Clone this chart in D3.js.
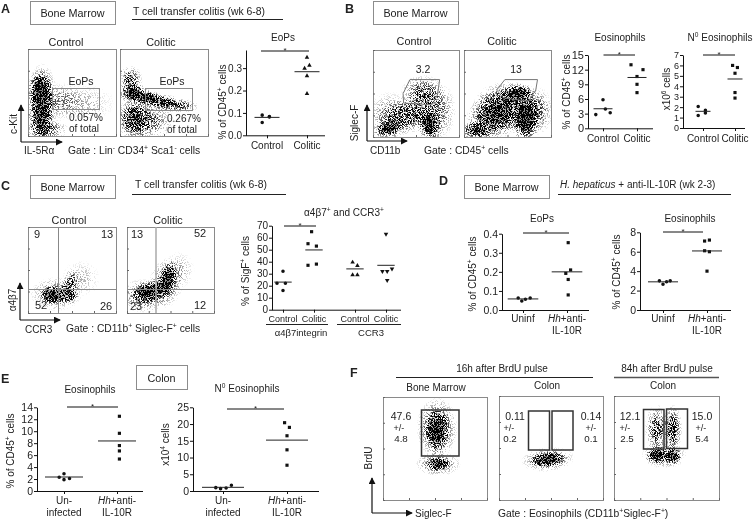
<!DOCTYPE html>
<html>
<head>
<meta charset="utf-8">
<script src="https://d3js.org/d3.v7.min.js"></script>
<style>
  html, body { margin: 0; padding: 0; background: #fff; }
  svg { display: block; filter: blur(0.3px); }
  text { font-family: "Liberation Sans", Arial, sans-serif; fill: #222; }
</style>
</head>
<body>
<div id="viz"></div>
<script>
// ---- dot plot values ----
// slots = sideways dodge of each dot inside its group
var eopsControl = [0.09, 0.084, 0.082, 0.057], eopsControlSlots = [-2, 1, 1, -2];
var eopsColitic = [0.348, 0.3125, 0.299, 0.265, 0.186], eopsColiticSlots = [0, 1, -1, 0, 0];
var eopsMeans = [0.08, 0.284];

var eosControl = [5.86, 3.95, 3.2, 2.8], eosControlSlots = [0, 1, 3, -3];
var eosColitic = [13, 12, 10.6, 9, 7.3], eosColiticSlots = [-2.5, 2.5, 0, 0, 0];
var eosMeans = [4, 10.4];

var numControl = [2.07, 1.7, 1.43, 1.2], numControlSlots = [-2, 1, 1, -2];
var numColitic = [6, 5.8, 5.25, 3.4, 2.87], numColiticSlots = [-1, 1, 0, 0, 0];
var numMeans = [1.6, 4.7];

var a4b7Control = [32, 22, 22, 16], a4b7ControlSlots = [0, -2.5, 1, 0];
var a4b7Colitic = [65, 55, 53, 38, 37], a4b7ColiticSlots = [-1, -2.5, 1, 1, -2.5];
var ccr3Control = [39.5, 36.7, 29, 29], ccr3ControlSlots = [-1, 1, -1, 1];
var ccr3Colitic = [63, 34, 32, 32, 24.5], ccr3ColiticSlots = [0, 2.5, -1.5, 0.5, 0.5];
var sigfMeans = [23, 49.8, 34, 37];

var hhEopsUninf = [0.063, 0.047, 0.056, 0.063], hhEopsUninfSlots = [-2, -0.5, 1, 3];
var hhEopsTreated = [0.353, 0.21, 0.192, 0.16, 0.079], hhEopsTreatedSlots = [0.5, 1.5, -0.5, 0.5, 0.5];
var hhEopsMeans = [0.058, 0.2];

var hhEosUninf = [3, 2.65, 2.9, 3], hhEosUninfSlots = [-1.5, 0, 1.5, 3];
var hhEosTreated = [7.1, 7.2, 6.1, 6, 4], hhEosTreatedSlots = [-1, 1, -1, 1, 0];
var hhEosMeans = [2.9, 6.08];

var colonPctUninf = [2.9, 2.3, 2.1, 1.9], colonPctUninfSlots = [0, -2, 2.3, 0];
var colonPctTreated = [12.5, 9.65, 7.6, 6.7, 5.35], colonPctTreatedSlots = [1, 1, 1, 1, 1];
var colonPctMeans = [2.34, 8.37];

var colonNumUninf = [1, 0.7, 0.9, 1.7], colonNumUninfSlots = [-3, -1, 1.3, 3.5];
var colonNumTreated = [20.4, 19, 16.5, 12.3, 7.7], colonNumTreatedSlots = [-1, 1, 0, 0, 0];
var colonNumMeans = [1.1, 15.2];

var controlColitic = [["Control"], ["Colitic"]];
var uninfLabels = [["Uninf"], ["*Hh*+anti-", "IL-10R"]];
var infectedLabels = [["Un-", "infected"], ["*Hh*+anti-", "IL-10R"]];
var sigfLabels = [["Control"], ["Colitic"], ["Control"], ["Colitic"]];

// ---- flow plots: density clouds in plot units (x, y, rx, ry, tilt, strength) ----
var cloudsA1 = [[14,52,15,24,0,1],[15,24,15,30,0,.85],[16,40,18,44,0,.7],[38,40,26,22,0,.25],[60,38,40,22,0,.16],[20,8,26,14,0,.5]];
var cloudsA2 = [[14,50,16,13,0,1],[30,44,24,10,12,1],[52,38,28,10,10,.75],[72,35,18,8,5,.4],[16,20,20,25,0,.75],[12,65,14,16,0,.55],[30,18,32,24,0,.45]];
var cloudsB1 = [[18,10,19,11,-15,1],[65,15,15,22,-15,1],[40,25,36,22,-20,.6],[58,50,26,22,0,.5],[20,25,28,28,0,.3],[75,30,22,34,0,.4]];
var cloudsB2 = [[62,50,22,12,0,1],[70,17,17,24,-5,1],[72,28,15,22,0,1],[35,25,34,28,-30,.85],[15,8,22,12,0,.8],[50,35,40,30,0,.65],[85,30,18,28,0,.4]];
var cloudsC1 = [[26,21,12,11,0,1],[36,21,22,11,0,.65],[47,25,11,16,-10,.65],[50,38,10,13,0,.4],[32,22,30,20,0,.4],[60,40,22,22,0,.15]];
var cloudsC2 = [[22,24,16,13,-20,1],[47,40,10,23,15,1],[35,27,20,13,-20,.75],[45,35,20,30,10,.5],[20,20,30,20,0,.45],[60,50,18,22,0,.18]];
var cloudsF1 = [[52,66,12,22,0,1],[52,70,20,30,0,.65],[53,35,11,7,0,1],[53,35,22,12,0,.5]];
var cloudsF2 = [[47,39,19,8,-5,1],[47,39,26,12,-5,.5]];
var cloudsF3 = [[41,43,12,9,0,1],[56,42,9,9,0,1],[41,68,12,24,0,.55],[56,68,9,24,0,.7],[48,43,22,13,0,.45]];
var flowTicks = [0, 25, 50, 75, 100];

var svg = d3.select("#viz").append("svg").attr("width", 754).attr("height", 520);
var defs = svg.append("defs");

// soft falloff for the density clouds
var cloudGrad = defs.append("radialGradient").attr("id", "cloudGrad");
[[0, 1], [0.35, 0.8], [0.7, 0.25], [1, 0]].forEach(function(s) {
    cloudGrad.append("stop").attr("offset", s[0]).attr("stop-color", "#000").attr("stop-opacity", s[1]);
});

// grain filter: cloud density mixed with fine noise so it reads as many small dots
var stipple = defs.append("filter").attr("id", "stipple")
    .attr("filterUnits", "userSpaceOnUse")
    .attr("x", 0).attr("y", 0).attr("width", 754).attr("height", 520)
    .attr("color-interpolation-filters", "sRGB");
stipple.append("feTurbulence").attr("type", "fractalNoise").attr("baseFrequency", 1.13)
    .attr("numOctaves", 2).attr("seed", 4).attr("result", "raw");
stipple.append("feColorMatrix").attr("in", "raw").attr("type", "matrix")
    .attr("values", "0 0 0 0 0  0 0 0 0 0  0 0 0 0 0  0 0 0 5 -2").attr("result", "noise");
stipple.append("feComposite").attr("in", "SourceGraphic").attr("in2", "noise").attr("operator", "arithmetic")
    .attr("k1", 1.0).attr("k2", 1.3).attr("k3", 0.8).attr("k4", -0.8);

defs.append("marker").attr("id", "head").attr("viewBox", "0 0 8 8")
    .attr("refX", 7).attr("refY", 4).attr("markerWidth", 7).attr("markerHeight", 7)
    .attr("markerUnits", "userSpaceOnUse").attr("orient", "auto")
  .append("path").attr("d", "M0,0L8,4L0,8Z").attr("fill", "#111");

// text with ^superscript^ and *italic* pieces
function rich(sel, str, size) {
    var parts = str.split(/(\^[^^]*\^|\*[^*]+\*)/).filter(function(d) { return d !== ""; });
    var lift = size * 0.36, raised = false;
    parts.forEach(function(p) {
        var t = sel.append("tspan");
        if (p[0] === "^") {
            t.text(p.slice(1, -1)).attr("font-size", size * 0.66).attr("dy", -lift);
            raised = true;
        } else {
            if (raised) t.attr("dy", lift);
            raised = false;
            if (p.length > 2 && p[0] === "*") t.text(p.slice(1, -1)).attr("font-style", "italic");
            else t.text(p);
        }
    });
    return sel;
}

function label(x, y, str, size, anchor, rotate) {
    size = size || 10;
    var t = svg.append("text").attr("font-size", size).attr("text-anchor", anchor || "start");
    if (rotate) t.attr("transform", "translate(" + x + "," + y + ") rotate(" + rotate + ")");
    else t.attr("x", x).attr("y", y);
    return rich(t, str, size);
}

function hline(x1, x2, y, color, width) {
    svg.append("line").attr("x1", x1).attr("x2", x2).attr("y1", y).attr("y2", y)
        .attr("stroke", color || "#111").attr("stroke-width", width || 1);
}

function tissueBox(x1, y1, x2, y2, str, baseline) {
    svg.append("rect").attr("x", x1 + .5).attr("y", y1 + .5).attr("width", x2 - x1).attr("height", y2 - y1)
        .attr("fill", "none").attr("stroke", "#8c8c8c").attr("stroke-width", 1);
    label((x1 + x2) / 2, baseline, str, 10.8, "middle");
}

function arrows(x, yTop, yBottom, xRight) {
    svg.append("path").attr("d", "M" + x + "," + yBottom + "V" + yTop)
        .attr("stroke", "#111").attr("stroke-width", 1.2).attr("fill", "none").attr("marker-end", "url(#head)");
    svg.append("path").attr("d", "M" + x + "," + yBottom + "H" + xRight)
        .attr("stroke", "#111").attr("stroke-width", 1.2).attr("fill", "none").attr("marker-end", "url(#head)");
}

var clipCount = 0;
function flowPlot(x1, x2, y1, y2, clouds) {
    var x = d3.scaleLinear().domain([0, 100]).range([x1, x2]);
    var y = d3.scaleLinear().domain([0, 100]).range([y2, y1]);
    var id = "clip" + (clipCount++);
    defs.append("clipPath").attr("id", id).append("rect")
        .attr("x", x1).attr("y", y1).attr("width", x2 - x1).attr("height", y2 - y1);
    var sx = (x2 - x1) / 100, sy = (y2 - y1) / 100;
    svg.append("g").attr("clip-path", "url(#" + id + ")")
      .append("g").attr("filter", "url(#stipple)")
      .selectAll("ellipse").data(clouds).enter().append("ellipse")
        .attr("cx", 0).attr("cy", 0)
        .attr("rx", function(d) { return d[2] * sx; })
        .attr("ry", function(d) { return d[3] * sy; })
        .attr("fill", "url(#cloudGrad)").attr("fill-opacity", function(d) { return d[5]; })
        .attr("transform", function(d) { return "translate(" + x(d[0]) + "," + y(d[1]) + ") rotate(" + d[4] + ")"; });
    svg.append("rect").attr("x", x1 + .5).attr("y", y1 + .5).attr("width", x2 - x1).attr("height", y2 - y1)
        .attr("fill", "none").attr("stroke", "#8a8a8a").attr("stroke-width", 1);
    var left = svg.append("g").attr("transform", "translate(" + x1 + ",0)")
        .call(d3.axisLeft(y).tickValues(flowTicks).tickSize(-2).tickFormat(""));
    var bottom = svg.append("g").attr("transform", "translate(0," + y2 + ")")
        .call(d3.axisBottom(x).tickValues(flowTicks).tickSize(-2).tickFormat(""));
    left.select(".domain").remove();
    bottom.select(".domain").remove();
    left.selectAll("line").attr("stroke", "#666");
    bottom.selectAll("line").attr("stroke", "#666");
    return { x: x, y: y };
}

function gateRect(x1, x2, y1, y2, color, width) {
    svg.append("rect").attr("x", x1).attr("y", y1).attr("width", x2 - x1).attr("height", y2 - y1)
        .attr("fill", "none").attr("stroke", color).attr("stroke-width", width);
}

var shapes = {
    circle: d3.symbol().type(d3.symbolCircle).size(10)(),
    square: d3.symbol().type(d3.symbolSquare).size(10)(),
    triangle: d3.symbol().type(d3.symbolTriangle).size(9)()
};
var SLOT_STEP = 2.4;

// one dot plot: y axis, x axis, dots, mean bars, significance bar
function dotPlot(c) {
    var y = d3.scaleLinear().domain([0, c.yMax]).range([c.bottom, c.top]);
    var ids = c.ticks.map(function(d, i) { return "g" + i; });
    var x = d3.scaleOrdinal().domain(ids).range(c.ticks);

    var ax = svg.append("g").attr("transform", "translate(" + c.left + ",0)")
        .call(d3.axisLeft(y).tickValues(c.yTicks).tickSize(3).tickSizeOuter(0).tickPadding(1).tickFormat(c.yFormat));
    ax.selectAll("text").attr("font-size", c.tickSize || 10).attr("font-family", null);
    var bx = svg.append("g").attr("transform", "translate(0," + c.bottom + ")")
        .call(d3.axisBottom(x).tickValues(ids).tickSize(3).tickSizeOuter(0).tickFormat(""));
    bx.select(".domain").attr("d", "M" + c.left + ",0.5H" + c.right);
    ax.selectAll("path,line").attr("stroke", "#111");
    bx.selectAll("path,line").attr("stroke", "#111");

    c.groups.forEach(function(g, i) {
        var cx = x(ids[i]);
        svg.append("g").selectAll("path").data(g.values).enter().append("path")
            .attr("d", shapes[g.shape])
            .attr("fill", "#111")
            .attr("transform", function(d, j) {
                return "translate(" + (cx + g.slots[j] * SLOT_STEP) + "," + y(d) + ")" + (g.flip ? " rotate(180)" : "");
            });
        hline(cx - c.meanHalf, cx + c.meanHalf, y(c.means[i]), "#222", 1);
        c.labels[i].forEach(function(line, k) {
            label(cx + (c.labelShift || 0), c.labelY + k * 12, line, c.labelSize || 10, "middle");
        });
    });

    hline(c.sig[0], c.sig[1], c.sig[2], "#111", 1);
    label((c.sig[0] + c.sig[1]) / 2 + (c.starShift || 0), c.sig[2] + 1.5, "*", 8, "middle");
    if (c.title) label(c.titleX, c.titleY, c.title, 10, "middle");
    label(c.yLabelX, c.yLabelY, c.yLabel, 10, "middle", -90);
}

// ---------- panel A ----------
label(1, 12.5, "A", 12.5).attr("font-weight", "bold");
tissueBox(30, 1, 115, 24, "Bone Marrow", 17);
label(133, 14.5, "T cell transfer colitis (wk 6-8)", 10.4);
hline(132, 283, 19.5, "#222");
label(66, 46, "Control", 10.8, "middle");
label(161, 46, "Colitic", 10.8, "middle");
flowPlot(28, 116, 49, 136, cloudsA1);
flowPlot(120, 208, 49, 136, cloudsA2);
gateRect(52.5, 99.5, 88.5, 109.5, "#8a8a8a", 1);
gateRect(145.5, 192.5, 88.5, 110.5, "#8a8a8a", 1);
label(81, 85, "EoPs", 10.5, "middle");
label(172, 85, "EoPs", 10.5, "middle");
label(69, 120.5, "0.057%", 10);
label(69, 132, "of total", 10);
label(167, 121.5, "0.267%", 10);
label(167, 133, "of total", 10);
arrows(21, 105, 142, 62);
label(17, 124, "c-Kit", 10, "middle", -90);
label(24, 154, "IL-5Rα", 10);
label(68, 154, "Gate : Lin^-^ CD34^+^ Sca1^-^ cells", 10.3);

dotPlot({
    left: 246, right: 325, top: 50, bottom: 135.3, yMax: 0.381, yTicks: [0, 0.1, 0.2, 0.3], yFormat: d3.format(".1f"),
    ticks: [267, 307], means: eopsMeans, meanHalf: 12.5, labels: controlColitic, labelY: 149,
    groups: [
        { values: eopsControl, slots: eopsControlSlots, shape: "circle" },
        { values: eopsColitic, slots: eopsColiticSlots, shape: "triangle" }
    ],
    sig: [261, 309, 51], title: "EoPs", titleX: 283, titleY: 41,
    yLabel: "% of CD45^+^ cells", yLabelX: 226, yLabelY: 102
});

// ---------- panel B ----------
label(345, 12.5, "B", 12.5).attr("font-weight", "bold");
tissueBox(373, 1, 458, 24, "Bone Marrow", 17);
label(414, 45, "Control", 10.8, "middle");
label(502, 45, "Colitic", 10.8, "middle");
var b1 = flowPlot(373, 459, 50, 137, cloudsB1);
var b2 = flowPlot(464, 551, 50, 137, cloudsB2);
var gateLine = d3.line().curve(d3.curveLinearClosed);
svg.append("path").attr("fill", "none").attr("stroke", "#777")
    .attr("d", gateLine([[43,66],[77.5,66],[75,48.5],[68.6,37],[35.6,39],[35,50]].map(function(p) { return [b1.x(p[0]), b1.y(p[1])]; })));
svg.append("path").attr("fill", "none").attr("stroke", "#777")
    .attr("d", gateLine([[47,66],[84.5,66],[82.5,54],[74,41],[45,45],[37.6,54]].map(function(p) { return [b2.x(p[0]), b2.y(p[1])]; })));
label(423, 73, "3.2", 10.5, "middle");
label(516, 73, "13", 10.5, "middle");
arrows(367, 105, 141, 407);
label(358, 123, "Siglec-F", 10, "middle", -90);
label(370, 154, "CD11b", 10);
label(424, 154, "Gate : CD45^+^ cells", 10.3);

dotPlot({
    left: 588, right: 653, top: 55, bottom: 128.3, yMax: 15, yTicks: [0, 3, 6, 9, 12, 15], yFormat: d3.format("d"), tickSize: 11,
    ticks: [603, 637], means: eosMeans, meanHalf: 9.5, labels: controlColitic, labelY: 142,
    groups: [
        { values: eosControl, slots: eosControlSlots, shape: "circle" },
        { values: eosColitic, slots: eosColiticSlots, shape: "square" }
    ],
    sig: [603.5, 635, 55], title: "Eosinophils", titleX: 620, titleY: 41,
    yLabel: "% of CD45^+^ cells", yLabelX: 570, yLabelY: 92
});
dotPlot({
    left: 683, right: 745, top: 55, bottom: 128, yMax: 7, yTicks: [0, 1, 2, 3, 4, 5, 6, 7], yFormat: d3.format("d"), tickSize: 9,
    ticks: [703, 735], means: numMeans, meanHalf: 7.5, labels: controlColitic, labelY: 142,
    groups: [
        { values: numControl, slots: numControlSlots, shape: "circle" },
        { values: numColitic, slots: numColiticSlots, shape: "square" }
    ],
    sig: [703, 735, 55], title: "N^0^ Eosinophils", titleX: 720, titleY: 41,
    yLabel: "x10^6^ cells", yLabelX: 670, yLabelY: 89
});

// ---------- panel C ----------
label(1, 190, "C", 12.5).attr("font-weight", "bold");
tissueBox(30, 175, 115, 198, "Bone Marrow", 190.5);
label(135, 188, "T cell transfer colitis (wk 6-8)", 10.4);
hline(132, 286, 194.5, "#222");
label(69, 224, "Control", 10.8, "middle");
label(168, 224, "Colitic", 10.8, "middle");
flowPlot(28, 116, 227, 313, cloudsC1);
flowPlot(127, 214, 227, 313, cloudsC2);
svg.append("path").attr("fill", "none").attr("stroke", "#888").attr("d", "M58.5,227V313M28,289.5H116");
svg.append("path").attr("fill", "none").attr("stroke", "#aaa").attr("stroke-width", 1.5).attr("d", "M156,227V313");
svg.append("path").attr("fill", "none").attr("stroke", "#888").attr("d", "M127,289.5H214");
label(37, 238, "9", 11, "middle");
label(107, 238, "13", 11, "middle");
label(41, 309, "52", 11, "middle");
label(106, 310, "26", 11, "middle");
label(137, 238, "13", 11, "middle");
label(200, 237, "52", 11, "middle");
label(136, 310, "23", 11, "middle");
label(200, 309, "12", 11, "middle");
arrows(20, 283, 320, 60);
label(16, 300, "α4β7", 10, "middle", -90);
label(25, 333, "CCR3", 10);
label(66, 332, "Gate : CD11b^+^ Siglec-F^+^ cells", 10.3);

dotPlot({
    left: 272, right: 401, top: 225.7, bottom: 309.7, yMax: 70, yTicks: d3.range(0, 71, 10), yFormat: d3.format("d"),
    ticks: [283, 314, 355, 386], means: sigfMeans, meanHalf: 8.7, labels: sigfLabels, labelY: 322, labelSize: 9, labelShift: 0,
    groups: [
        { values: a4b7Control, slots: a4b7ControlSlots, shape: "circle" },
        { values: a4b7Colitic, slots: a4b7ColiticSlots, shape: "square" },
        { values: ccr3Control, slots: ccr3ControlSlots, shape: "triangle" },
        { values: ccr3Colitic, slots: ccr3ColiticSlots, shape: "triangle", flip: true }
    ],
    sig: [284, 316, 226], title: "α4β7^+^ and CCR3^+^", titleX: 344, titleY: 216,
    yLabel: "% of SigF^+^ cells", yLabelX: 249, yLabelY: 271
});
hline(266, 328, 324.5, "#222");
hline(337, 401, 324.5, "#222");
label(301, 336, "α4β7integrin", 9.5, "middle");
label(371, 336, "CCR3", 9.5, "middle");

// ---------- panel D ----------
label(439, 185, "D", 12.5).attr("font-weight", "bold");
tissueBox(464, 175, 549, 198, "Bone Marrow", 190.5);
label(560, 188, "*H. hepaticus* + anti-IL-10R (wk 2-3)", 10);
hline(558, 731, 194.5, "#222");

dotPlot({
    left: 502, right: 589, top: 233.7, bottom: 310, yMax: 0.4, yTicks: [0, 0.1, 0.2, 0.3, 0.4], yFormat: d3.format(".1f"), tickSize: 10.5,
    ticks: [523, 567], means: hhEopsMeans, meanHalf: 15.3, labels: uninfLabels, labelY: 322,
    groups: [
        { values: hhEopsUninf, slots: hhEopsUninfSlots, shape: "circle" },
        { values: hhEopsTreated, slots: hhEopsTreatedSlots, shape: "square" }
    ],
    sig: [523, 569, 233], title: "EoPs", titleX: 542, titleY: 222,
    yLabel: "% of CD45^+^ cells", yLabelX: 476, yLabelY: 274
});
dotPlot({
    left: 640, right: 731, top: 232.3, bottom: 310, yMax: 8, yTicks: [0, 2, 4, 6, 8], yFormat: d3.format("d"), tickSize: 10.5,
    ticks: [663, 707], means: hhEosMeans, meanHalf: 15, labels: uninfLabels, labelY: 322,
    groups: [
        { values: hhEosUninf, slots: hhEosUninfSlots, shape: "circle" },
        { values: hhEosTreated, slots: hhEosTreatedSlots, shape: "square" }
    ],
    sig: [663, 703, 232], title: "Eosinophils", titleX: 690, titleY: 222,
    yLabel: "% of CD45^+^ cells", yLabelX: 620, yLabelY: 272
});

// ---------- panel E ----------
label(1, 383, "E", 12.5).attr("font-weight", "bold");
tissueBox(136, 365, 187, 389, "Colon", 382);

dotPlot({
    left: 37, right: 143, top: 407.3, bottom: 491, yMax: 14, yTicks: d3.range(0, 15, 2), yFormat: d3.format("d"), tickSize: 10.5,
    ticks: [64, 117], means: colonPctMeans, meanHalf: 19, labels: infectedLabels, labelY: 504,
    groups: [
        { values: colonPctUninf, slots: colonPctUninfSlots, shape: "circle" },
        { values: colonPctTreated, slots: colonPctTreatedSlots, shape: "square" }
    ],
    sig: [67, 118, 407], title: "Eosinophils", titleX: 90, titleY: 393,
    yLabel: "% of CD45^+^ cells", yLabelX: 14, yLabelY: 451
});
dotPlot({
    left: 193, right: 319, top: 407.3, bottom: 491, yMax: 25, yTicks: d3.range(0, 26, 5), yFormat: d3.format("d"), tickSize: 10.5,
    ticks: [223, 287], means: colonNumMeans, meanHalf: 21, labels: infectedLabels, labelY: 504,
    groups: [
        { values: colonNumUninf, slots: colonNumUninfSlots, shape: "circle" },
        { values: colonNumTreated, slots: colonNumTreatedSlots, shape: "square" }
    ],
    sig: [227, 284, 409], title: "N^0^ Eosinophils", titleX: 247, titleY: 392,
    yLabel: "x10^4^ cells", yLabelX: 169, yLabelY: 444.5
});

// ---------- panel F ----------
label(350, 377, "F", 12.5).attr("font-weight", "bold");
label(502, 372, "16h after BrdU pulse", 10, "middle");
hline(396, 593, 377.5, "#222");
label(667, 372, "84h after BrdU pulse", 10, "middle");
hline(614, 719, 377.5, "#555", 1.3);
label(436, 391, "Bone Marrow", 10, "middle");
label(547, 389, "Colon", 10, "middle");
label(663, 389, "Colon", 10, "middle");
flowPlot(383, 487, 397, 500, cloudsF1);
flowPlot(499, 603, 396, 500, cloudsF2);
flowPlot(614, 719, 396, 500, cloudsF3);
gateRect(421.5, 459, 410, 456, "#333", 1.5);
gateRect(528.5, 549.5, 411, 450, "#333", 1.5);
gateRect(552, 573, 411, 450, "#333", 1.5);
gateRect(643.5, 664, 409.5, 449, "#333", 1.5);
gateRect(666.5, 687.5, 409, 448.5, "#333", 1.5);
label(401, 420, "47.6", 10.5, "middle");
label(399, 431, "+/-", 9, "middle");
label(401, 442, "4.8", 9.8, "middle");
label(515, 420, "0.11", 10.5, "middle");
label(509, 431, "+/-", 9, "middle");
label(510, 442, "0.2", 9.8, "middle");
label(591, 420, "0.14", 10.5, "middle");
label(591, 431, "+/-", 9, "middle");
label(591, 442, "0.1", 9.8, "middle");
label(630, 420, "12.1", 10.5, "middle");
label(625, 431, "+/-", 9, "middle");
label(627, 442, "2.5", 9.8, "middle");
label(702, 420, "15.0", 10.5, "middle");
label(701, 431, "+/-", 9, "middle");
label(702, 442, "5.4", 9.8, "middle");
arrows(372, 478, 513, 412);
label(372, 458, "BrdU", 10, "middle", -90);
label(415, 517, "Siglec-F", 10);
label(498, 517, "Gate : Eosinophils (CD11b^+^Siglec-F^+^)", 10.3);
</script>
</body>
</html>
